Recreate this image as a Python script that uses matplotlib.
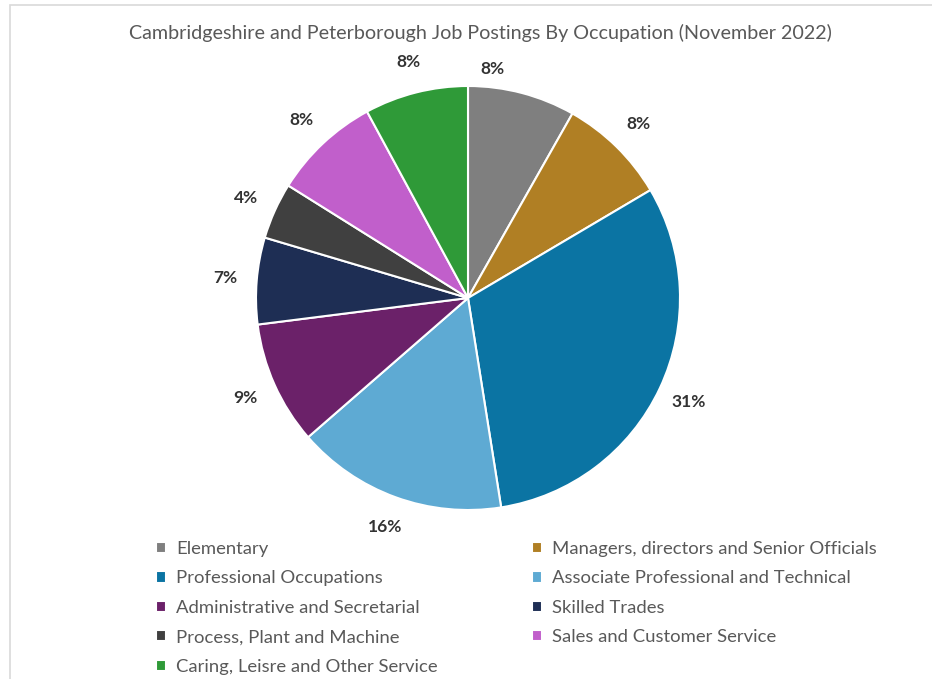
import matplotlib
matplotlib.use("Agg")
from matplotlib import pyplot as plt
from matplotlib.patches import Rectangle

occupations = [
    "Elementary",
    "Managers, directors and Senior Officials",
    "Professional Occupations",
    "Associate Professional and Technical",
    "Administrative and Secretarial",
    "Skilled Trades",
    "Process, Plant and Machine",
    "Sales and Customer Service",
    "Caring, Leisre and Other Service",
]
shares = [8.2, 8.3, 31.0, 16.1, 9.4, 6.6, 4.3, 8.2, 7.9]
colors = ["#7f7f7f", "#b07f24", "#0b74a3", "#5eaad3", "#6b2169",
          "#1e2e54", "#404040", "#c15fcb", "#2f9a38"]

plt.rcParams['font.family'] = ['Lato', 'DejaVu Sans']

fig = plt.figure(figsize=(9.32, 6.79), dpi=100)
W, H = 932, 679

# chart area border (only the top and left edges are visible in the crop)
fig.patches.append(Rectangle((10 / W, -0.05), 1.1, 1 - 5 / H + 0.05,
                             transform=fig.transFigure, fill=False,
                             edgecolor='#d9d9d9', linewidth=1.2))

cx, cy, r = 468, 298, 212
ax = fig.add_axes([(cx - r) / W, 1 - (cy + r) / H, 2 * r / W, 2 * r / H])

wedges, texts, autotexts = ax.pie(
    shares, colors=colors, startangle=90, counterclock=False,
    radius=1, autopct=lambda p: '%.0f%%' % p, pctdistance=1.15,
    wedgeprops=dict(edgecolor='white', linewidth=1.5),
    textprops=dict(fontsize=12.5, fontweight='bold', color='#333333'))
ax.set_xlim(-1, 1)
ax.set_ylim(-1, 1)
ax.set_aspect('equal')

# the first label sits closer to the top in the original
x, y = autotexts[0].get_position()
autotexts[0].set_position((x * 0.4, y * 0.97))

fig.text(480 / W, 1 - 33 / H, "Cambridgeshire and Peterborough Job Postings By Occupation (November 2022)",
         ha='center', va='center', fontsize=14.2, color='#595959')

# legend reads row by row: reorder for column-major filling
order = [0, 2, 4, 6, 8, 1, 3, 5, 7]
fig.legend([wedges[i] for i in order], [occupations[i] for i in order],
           ncol=2, loc='upper left',
           bbox_to_anchor=(156 / W, 1 - 541 / H), frameon=False,
           fontsize=13.3, labelcolor='#595959', handlelength=0.55, handleheight=0.55,
           handletextpad=0.55, columnspacing=5.1, labelspacing=0.73,
           borderaxespad=0, borderpad=0)

fig.savefig("out.png", dpi=100)
